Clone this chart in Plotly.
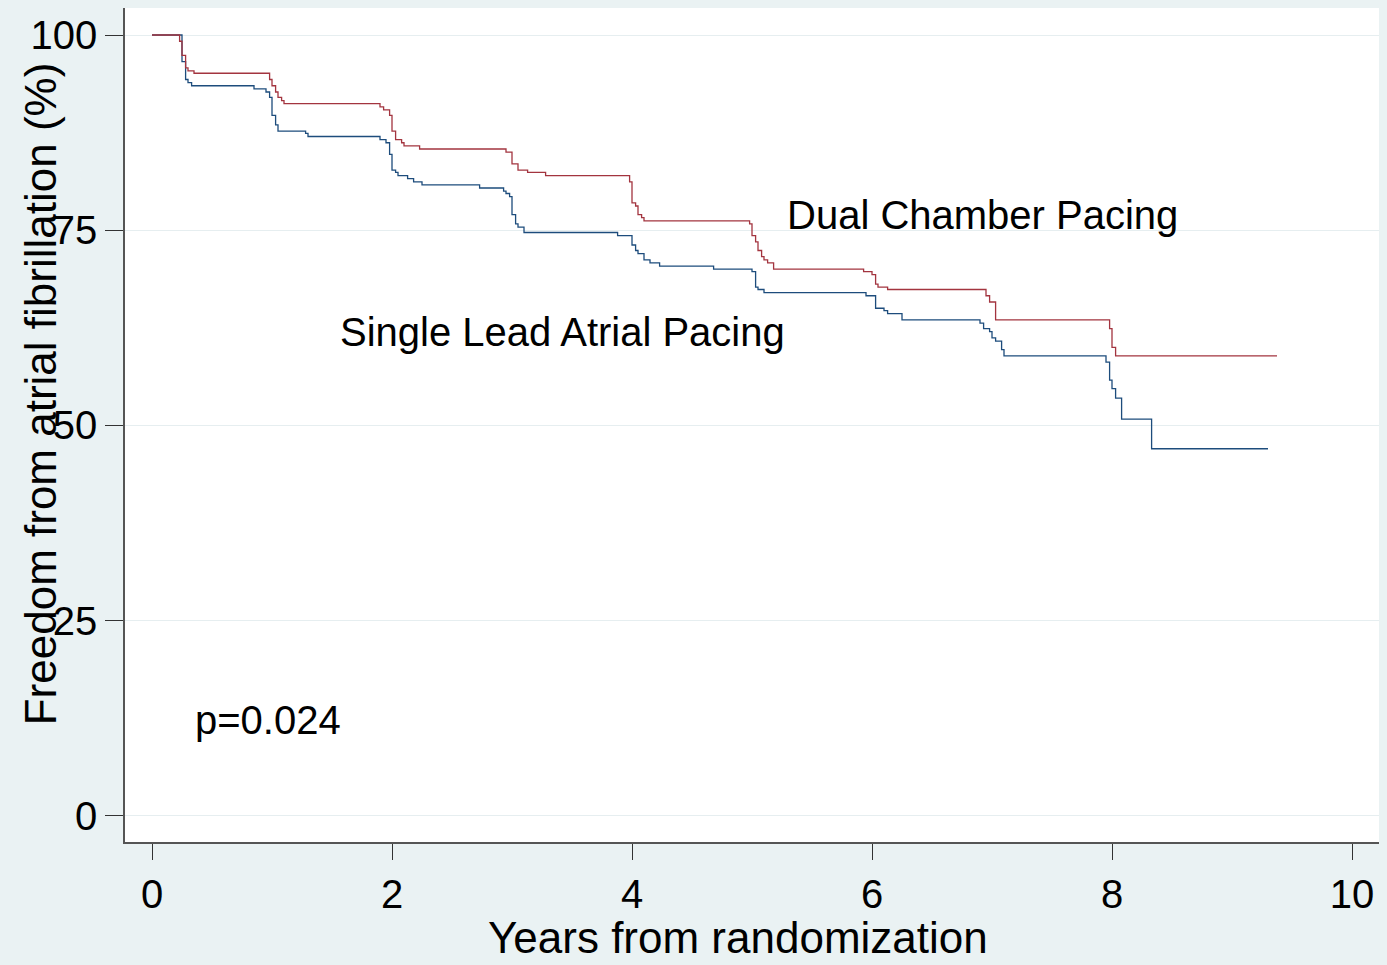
import plotly.graph_objects as go

# Kaplan-Meier step data (years, % free from AF)
dual_t = [0, 0.23, 0.25, 0.28, 0.30, 0.35, 0.98, 1.00, 1.03, 1.05, 1.08, 1.10,
          1.90, 1.93, 1.98, 2.00, 2.03, 2.08, 2.10, 2.23, 2.95, 3.00, 3.05, 3.13,
          3.28, 3.98, 4.00, 4.03, 4.05, 4.08, 4.10, 4.98, 5.00, 5.03, 5.05, 5.08,
          5.10, 5.13, 5.18, 5.93, 6.00, 6.03, 6.05, 6.13, 6.95, 6.98, 7.03, 7.98,
          8.00, 8.03, 9.375]
dual_s = [100, 99.2, 97.4, 95.8, 95.4, 95.1, 94.3, 93.5, 92.7, 92.0, 91.6, 91.2,
          90.8, 90.4, 89.7, 87.7, 86.6, 86.2, 85.8, 85.4, 85.0, 83.5, 82.7, 82.4,
          82.0, 81.2, 78.5, 78.1, 77.0, 76.6, 76.2, 75.8, 74.3, 73.5, 72.4, 71.6,
          71.2, 70.8, 70.0, 69.7, 69.3, 68.1, 67.7, 67.4, 66.6, 65.8, 63.5, 62.4,
          60.0, 58.9, 58.9]

single_t = [0, 0.25, 0.28, 0.30, 0.33, 0.85, 0.95, 0.98, 1.00, 1.03, 1.05, 1.28,
            1.30, 1.90, 1.95, 1.98, 2.00, 2.03, 2.05, 2.13, 2.18, 2.25, 2.73, 2.93,
            2.95, 2.98, 3.00, 3.03, 3.05, 3.10, 3.88, 4.00, 4.03, 4.05, 4.10, 4.15,
            4.23, 4.68, 5.00, 5.03, 5.05, 5.10, 5.95, 6.03, 6.10, 6.13, 6.25, 6.90,
            6.93, 6.98, 7.00, 7.03, 7.08, 7.10, 7.95, 7.98, 8.00, 8.03, 8.08, 8.33,
            9.30]
single_s = [100, 96.6, 94.3, 93.9, 93.5, 93.1, 92.7, 92.0, 89.7, 88.5, 87.7, 87.4,
            87.0, 86.6, 86.2, 84.7, 82.7, 82.4, 82.0, 81.6, 81.2, 80.8, 80.4, 80.0,
            79.7, 79.3, 77.0, 75.8, 75.4, 74.7, 74.3, 73.1, 72.4, 72.0, 71.2, 70.8,
            70.4, 70.0, 69.7, 67.7, 67.4, 67.0, 66.6, 65.0, 64.7, 64.3, 63.5, 63.1,
            62.4, 62.0, 61.2, 60.8, 59.7, 58.9, 58.1, 55.8, 54.7, 53.5, 50.8, 47.0,
            47.0]

x_ticks = [0, 2, 4, 6, 8, 10]
y_ticks = [0, 25, 50, 75, 100]

FONT = "Liberation Sans, Arial, sans-serif"
RED = "#a3343f"
NAVY = "#1d4c7c"
BG = "#eaf2f3"

fig = go.Figure()
fig.add_trace(go.Scatter(x=single_t, y=single_s, mode="lines", line_shape="hv",
                         line=dict(color=NAVY, width=1.3), showlegend=False))
fig.add_trace(go.Scatter(x=dual_t, y=dual_s, mode="lines", line_shape="hv",
                         line=dict(color=RED, width=1.3), showlegend=False))

fig.add_annotation(x=5.275, y=76.9, text="Dual Chamber Pacing", showarrow=False,
                   xanchor="left", yanchor="middle", font=dict(size=40, color="black", family=FONT))
fig.add_annotation(x=1.55, y=61.9, text="Single Lead Atrial Pacing", showarrow=False,
                   xanchor="left", yanchor="middle", font=dict(size=40, color="black", family=FONT))
fig.add_annotation(x=0.34, y=12.3, text="p=0.024", showarrow=False,
                   xanchor="left", yanchor="middle", font=dict(size=40, color="black", family=FONT))

# axis titles
fig.add_annotation(xref="paper", yref="paper", x=0.489, y=-0.115, text="Years from randomization",
                   showarrow=False, xanchor="center", yanchor="middle",
                   font=dict(size=44, color="black", family=FONT))
fig.add_annotation(xref="paper", yref="paper", x=-0.0678, y=0.538,
                   text="Freedom from atrial fibrillation (%)", textangle=-90,
                   showarrow=False, xanchor="center", yanchor="middle",
                   font=dict(size=44, color="black", family=FONT))

fig.update_layout(
    width=1387, height=965,
    margin=dict(l=125, r=8, t=8, b=123),
    paper_bgcolor=BG, plot_bgcolor="white",
    font=dict(family=FONT, color="black"),
    xaxis=dict(range=[-0.225, 10.225], tickvals=x_ticks, ticks="outside", ticklen=16,
               tickcolor="#333", tickwidth=1.2, showgrid=False, zeroline=False,
               showline=True, linecolor="#555", linewidth=1.5,
               tickfont=dict(size=40, family=FONT, color="black")),
    yaxis=dict(range=[-3.37, 103.46], tickvals=y_ticks, ticks="outside", ticklen=18,
               tickcolor="#333", tickwidth=1.2, showgrid=True, gridcolor="#e6eef0",
               gridwidth=1, zeroline=False, showline=True, linecolor="#555", linewidth=1.5,
               tickfont=dict(size=40, family=FONT, color="black")),
)

fig.write_html("out.html", config={"displayModeBar": False},
               post_script="document.body.style.margin='0';document.body.style.overflow='hidden';")
